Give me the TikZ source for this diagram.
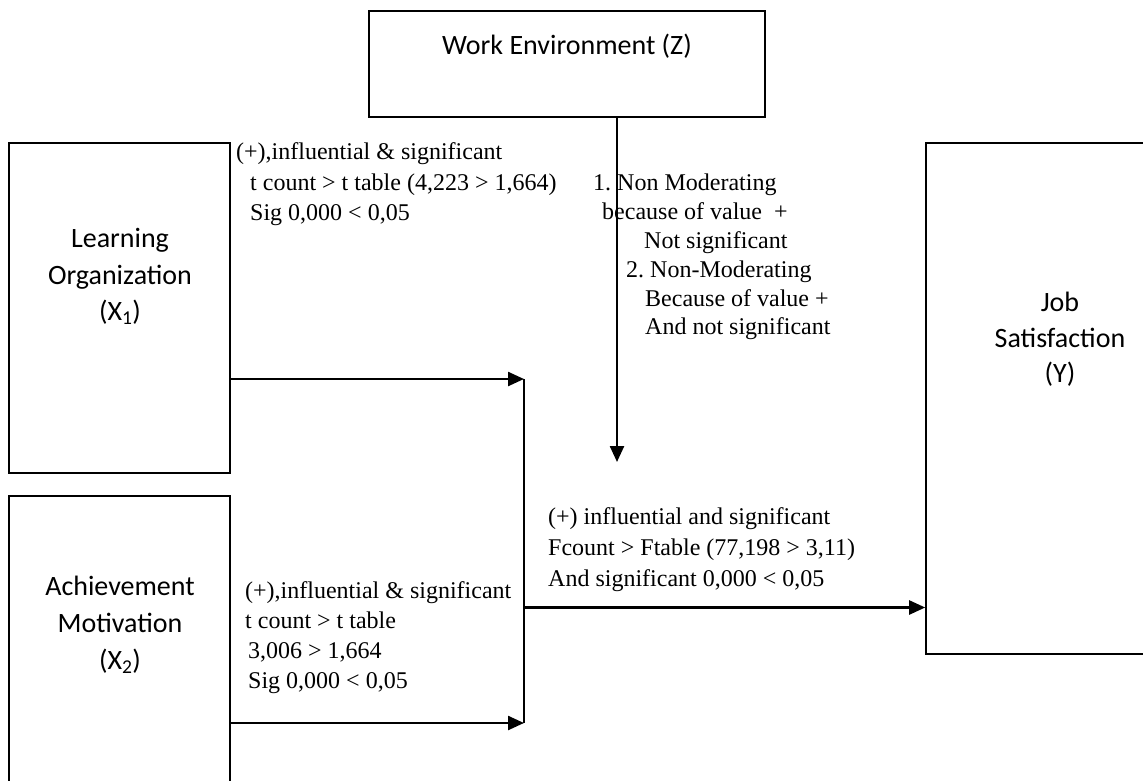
\documentclass[tikz,border=0pt]{standalone}
\usepackage{fontspec}
\setmainfont{Liberation Serif}
\newfontfamily\calib{Carlito}
\usetikzlibrary{arrows.meta}
\frenchspacing
\begin{document}
\begin{tikzpicture}[x=1pt,y=-1pt,
  box/.style={draw, line width=1.6pt, inner sep=0pt, rectangle},
  lab/.style={font=\calib\fontsize{28}{34}\selectfont, anchor=base, inner sep=0pt},
  note/.style={font=\fontsize{24}{30}\selectfont, anchor=base west, inner sep=0pt},
  conn/.style={line width=2.4pt, -{Triangle[length=16pt,width=14pt]}},
  link/.style={line width=1.6pt}]
\useasboundingbox (0,0) rectangle (1143,780);
\clip (0,0) rectangle (1143,780);
\fill[white] (0,0) rectangle (1143,780);

% boxes
\node[box, minimum width=396pt, minimum height=106pt] (z) at (567,64) {};
\node[box, minimum width=221pt, minimum height=330pt] (x1) at (119.5,308) {};
\node[box, minimum width=221pt, minimum height=324pt] (x2) at (119.5,658) {};
\node[box, minimum width=244pt, minimum height=511pt] (y) at (1048,398.5) {};

% box labels
\node[lab] (zl) at (567,54) {Work Environment (Z)};
\node[lab] (x1a) at (120,247) {Learning};
\node[lab] (x1b) at (120,284) {Organization};
\node[lab] (x1c) at (120,320) {(X\textsubscript{1})};
\node[lab] (x2a) at (120,595) {Achievement};
\node[lab] (x2b) at (120,632) {Motivation};
\node[lab] (x2c) at (120,669) {(X\textsubscript{2})};
\node[lab] (ya) at (1060,311) {Job};
\node[lab] (yb) at (1060,347) {Satisfaction};
\node[lab] (yc) at (1060,382) {(Y)};

% junction points
\coordinate (j1) at (524,379);
\coordinate (j2) at (524,723);
\coordinate (jm) at (524,607.5);
\coordinate (zt) at (617,462);

% connectors
\draw[conn] (x1.east |- j1) -- (j1);
\draw[conn] (x2.east |- j2) -- (j2);
\draw[link] (j1) -- (j2);
\draw[conn] (jm) -- (y.west |- jm);
\draw[conn] (z.south -| zt) -- (zt);

% notes X1 -> junction
\node[note] (a1) at (236,159) {(+),influential \& significant};
\node[note] (a2) at (250,190) {t count > t table (4,223 > 1,664)};
\node[note] (a3) at (250,220) {Sig 0,000 < 0,05};

% notes moderation
\node[note] (b1) at (593,190) {1. Non Moderating};
\node[note] (b2) at (602,219) {because of value ~+};
\node[note] (b3) at (644,248) {Not significant};
\node[note] (b4) at (626,277) {2. Non-Moderating};
\node[note] (b5) at (645,306) {Because of value +};
\node[note] (b6) at (645,334) {And not significant};

% notes F test
\node[note] (c1) at (548,524) {(+) influential and significant};
\node[note] (c2) at (548,555) {Fcount > Ftable (77,198 > 3,11)};
\node[note] (c3) at (548,586) {And significant 0,000 < 0,05};

% notes X2 -> junction
\node[note] (d1) at (245,598) {(+),influential \& significant};
\node[note] (d2) at (245,628) {t count > t table};
\node[note] (d3) at (248,658) {3,006 > 1,664};
\node[note] (d4) at (248,688) {Sig 0,000 < 0,05};
\end{tikzpicture}
\end{document}
